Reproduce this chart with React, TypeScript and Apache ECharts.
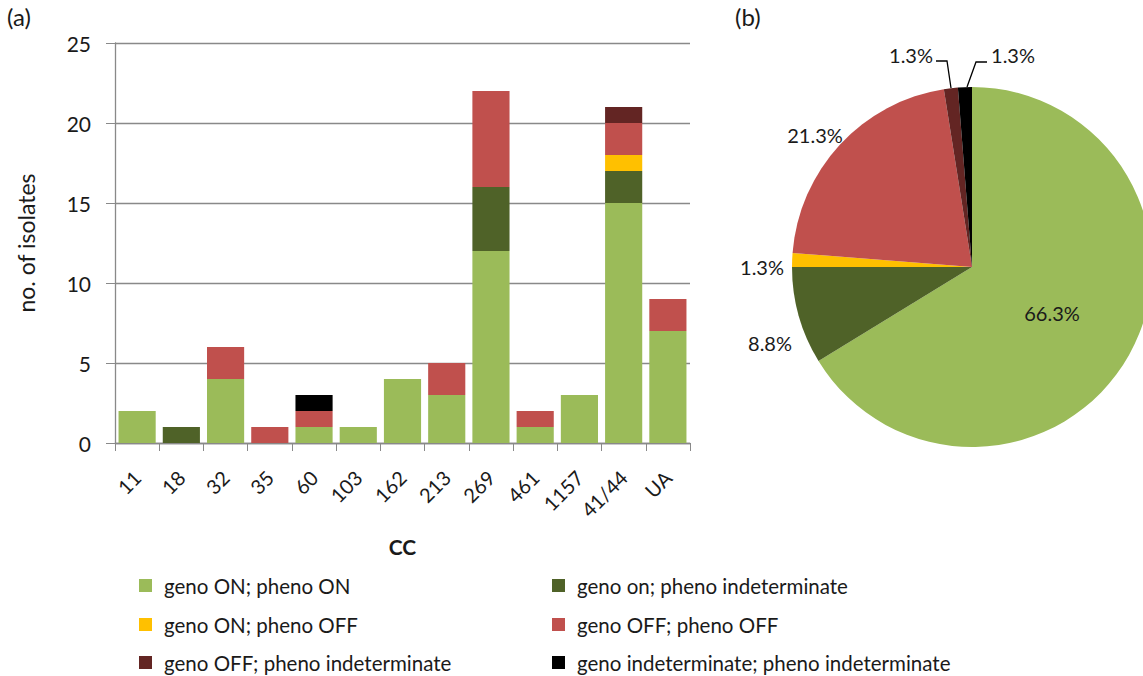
import React, { useEffect, useRef } from "react";
import * as echarts from "echarts";

const categories = ["11", "18", "32", "35", "60", "103", "162", "213", "269", "461", "1157", "41/44", "UA"];
const seriesNames = [
  "geno ON; pheno ON",
  "geno on; pheno indeterminate",
  "geno ON; pheno OFF",
  "geno OFF; pheno OFF",
  "geno OFF; pheno indeterminate",
  "geno indeterminate; pheno indeterminate",
];
const genoOnPhenoOn = [2, 0, 4, 0, 1, 1, 4, 3, 12, 1, 3, 15, 7];
const genoOnPhenoInd = [0, 1, 0, 0, 0, 0, 0, 0, 4, 0, 0, 2, 0];
const genoOnPhenoOff = [0, 0, 0, 0, 0, 0, 0, 0, 0, 0, 0, 1, 0];
const genoOffPhenoOff = [0, 0, 2, 1, 1, 0, 0, 2, 6, 1, 0, 2, 2];
const genoOffPhenoInd = [0, 0, 0, 0, 0, 0, 0, 0, 0, 0, 0, 1, 0];
const genoIndPhenoInd = [0, 0, 0, 0, 1, 0, 0, 0, 0, 0, 0, 0, 0];
const pieCounts = [53, 7, 1, 17, 1, 1];
const yTicks = [0, 5, 10, 15, 20, 25];

const colors = ["#9BBB59", "#4F6228", "#FFC000", "#C0504D", "#632523", "#000000"];
const FONT = "Lato, 'Open Sans', sans-serif";
const TXT = "#1a1a1a";

export default function App() {
  const ref = useRef<HTMLDivElement>(null);
  useEffect(() => {
    document.body.style.margin = "0";
    const chart = echarts.init(ref.current!, null, { renderer: "svg" });
    const barData = [genoOnPhenoOn, genoOnPhenoInd, genoOnPhenoOff, genoOffPhenoOff, genoOffPhenoInd, genoIndPhenoInd];
    const total = pieCounts.reduce((a, b) => a + b, 0);
    const labelPos: any[] = [
      { x: 1052, y: 313 },
      { x: 770, y: 343 },
      { x: 762, y: 267 },
      { x: 815, y: 135 },
      { x: 911, y: 55, pts: [[951, 88], [947, 61], [936, 61]] },
      { x: 1013, y: 55, pts: [[967, 87], [976, 62], [987, 62]] },
    ];
    // legend slots: [left, top] for each series
    const legendSlots = [
      [139, 575],
      [552, 575],
      [139, 614],
      [552, 614],
      [139, 652],
      [552, 652],
    ];
    const option: any = {
      animation: false,
      textStyle: { fontFamily: FONT },
      color: colors,
      graphic: [
        { type: "text", left: 7, top: 4, style: { text: "(a)", fontSize: 24, fill: TXT, fontFamily: FONT } },
        { type: "text", left: 735, top: 4, style: { text: "(b)", fontSize: 24, fill: TXT, fontFamily: FONT } },
      ],
      legend: seriesNames.map((n, i) => ({
        orient: "horizontal",
        left: legendSlots[i][0],
        top: legendSlots[i][1],
        itemWidth: 13,
        itemHeight: 13,
        icon: "rect",
        selectedMode: false,
        padding: 0,
        textStyle: { fontSize: 20.5, color: TXT, fontFamily: FONT, padding: [0, 0, 0, 7] },
        data: [n],
      })),
      grid: { left: 115, right: 453, top: 43, bottom: 233, containLabel: false },
      xAxis: {
        type: "category",
        data: categories,
        name: "CC",
        nameLocation: "middle",
        nameGap: 93,
        nameTextStyle: { fontSize: 21, fontWeight: "bold", color: TXT, fontFamily: FONT },
        axisLine: { lineStyle: { color: "#898989", width: 1.3 } },
        axisTick: { show: true, length: 8, interval: 0, lineStyle: { color: "#898989" } },
        axisLabel: { rotate: 45, fontSize: 20, color: TXT, margin: 31, interval: 0, fontFamily: FONT },
      },
      yAxis: {
        type: "value",
        min: yTicks[0],
        max: yTicks[yTicks.length - 1],
        interval: yTicks[1] - yTicks[0],
        name: "no. of isolates",
        nameLocation: "middle",
        nameGap: 78,
        nameTextStyle: { fontSize: 23, color: TXT, fontFamily: FONT },
        axisLine: { show: true, lineStyle: { color: "#898989", width: 1.3 } },
        axisTick: { show: true, length: 9, lineStyle: { color: "#898989" } },
        axisLabel: { fontSize: 21, color: TXT, margin: 24, fontFamily: FONT },
        splitLine: { lineStyle: { color: "#898989", width: 1.3 } },
      },
      series: [
        ...barData.map((d, i) => ({
          name: seriesNames[i],
          type: "bar",
          stack: "total",
          data: d,
          barCategoryGap: "16%",
          itemStyle: { color: colors[i] },
        })),
        {
          type: "pie",
          center: [972, 267],
          radius: 180,
          startAngle: 90,
          clockwise: true,
          avoidLabelOverlap: false,
          data: pieCounts.map((v, i) => ({
            name: seriesNames[i],
            value: v,
            itemStyle: { color: colors[i] },
            labelLine: { show: i >= 4 },
          })),
          label: {
            show: true,
            position: "outside",
            fontSize: 20,
            color: TXT,
            fontFamily: FONT,
            formatter: (p: any) => (Math.round((p.value * 1000) / total) / 10).toFixed(1) + "%",
          },
          labelLine: { lineStyle: { color: "#000", width: 1.3 }, length: 10, length2: 10 },
          labelLayout: (p: any) => {
            const L = labelPos[p.dataIndex];
            const r: any = { x: L.x, y: L.y, align: "center", verticalAlign: "middle" };
            if (L.pts) r.labelLinePoints = L.pts;
            return r;
          },
        },
      ],
    };
    chart.setOption(option);
    return () => chart.dispose();
  }, []);
  return <div ref={ref} style={{ position: "absolute", left: 0, top: 0, width: 1143, height: 676 }} />;
}
